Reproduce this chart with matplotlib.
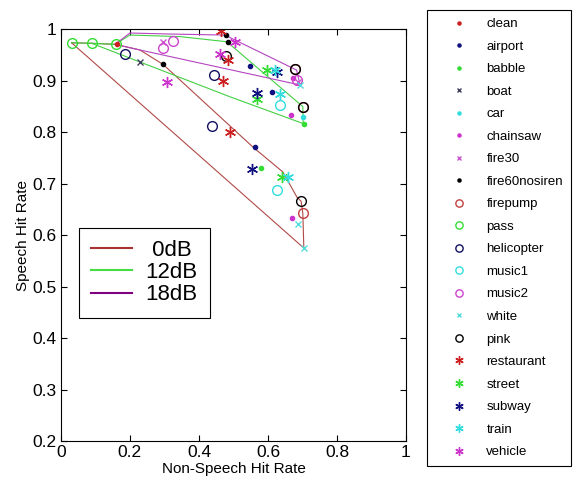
import matplotlib
matplotlib.use('Agg')
import matplotlib.pyplot as plt

plt.rcParams['font.family'] = ['Liberation Sans', 'DejaVu Sans']

# operating curves per SNR (non-speech hit rate, speech hit rate)
snr_names = ['0dB', '12dB', '18dB']
snr_labels = [' 0dB', '12dB', '18dB']
curve_upper = {
    '0dB': ([0.031, 0.089, 0.157, 0.229, 0.296, 0.557, 0.643, 0.684, 0.696, 0.701, 0.704],
            [0.974, 0.973, 0.971, 0.960, 0.932, 0.771, 0.723, 0.674, 0.666, 0.643, 0.575]),
    '12dB': ([0.031, 0.089, 0.157, 0.200, 0.345, 0.481, 0.701, 0.702],
             [0.974, 0.973, 0.971, 0.989, 0.986, 0.976, 0.850, 0.817]),
    '18dB': ([0.157, 0.200, 0.316, 0.475, 0.683, 0.693],
             [0.971, 0.993, 0.991, 0.989, 0.921, 0.892]),
}
curve_lower = {
    '0dB': ([0.031, 0.704], [0.974, 0.575]),
    '12dB': ([0.089, 0.490, 0.702], [0.973, 0.869, 0.817]),
    '18dB': ([0.157, 0.229, 0.693], [0.971, 0.960, 0.892]),
}
snr_colors = ['#b04a48', '#44d044', '#b444c0']
snr_legend_colors = ['#a83232', '#44dd44', '#800080']

# noise conditions: name, marker, colour, x, y
conditions = ['clean', 'airport', 'babble', 'boat', 'car', 'chainsaw', 'fire30',
              'fire60nosiren', 'firepump', 'pass', 'helicopter', 'music1', 'music2',
              'white', 'pink', 'restaurant', 'street', 'subway', 'train', 'vehicle']
markers = ['.', '.', '.', 'x', '.', '.', 'x', '.', 'o', 'o', 'o', 'o', 'o', 'x', 'o',
           '*', '*', '*', '*', '*']
colors = ['#cc2020', '#101080', '#33dd33', '#404060', '#33dddd', '#cc33cc', '#cc55cc',
          '#000000', '#c04040', '#33dd33', '#101060', '#33dddd', '#cc44cc', '#55dddd',
          '#000000', '#cc2020', '#33dd33', '#101080', '#33dddd', '#cc33cc']
xs = [[0.163], [0.548, 0.611, 0.562], [0.704, 0.579], [0.229], [0.702],
      [0.672, 0.666, 0.669], [0.297, 0.687], [0.478, 0.485, 0.297],
      [0.678, 0.701, 0.701], [0.031, 0.089, 0.159], [0.443, 0.437, 0.186],
      [0.635, 0.627], [0.297, 0.326, 0.683], [0.693, 0.688, 0.704],
      [0.478, 0.678, 0.701, 0.695], [0.463, 0.485, 0.470, 0.490],
      [0.596, 0.569, 0.640], [0.625, 0.569, 0.553], [0.620, 0.635, 0.659],
      [0.504, 0.461, 0.306]]
ys = [[0.971], [0.929, 0.878, 0.771], [0.817, 0.730], [0.937], [0.830],
      [0.905, 0.834, 0.634], [0.976, 0.898], [0.989, 0.976, 0.932],
      [0.924, 0.849, 0.643], [0.974, 0.973, 0.971], [0.911, 0.812, 0.953],
      [0.853, 0.688], [0.963, 0.978, 0.902], [0.892, 0.621, 0.575],
      [0.948, 0.923, 0.849, 0.667], [0.997, 0.940, 0.900, 0.801],
      [0.922, 0.864, 0.713], [0.918, 0.877, 0.728], [0.921, 0.874, 0.714],
      [0.975, 0.952, 0.898]]

fig = plt.figure(figsize=(5.8, 4.82), dpi=100)
ax = fig.add_axes([0.105, 0.085, 0.595, 0.854])

snr_lines = []
for name, lab, c in zip(snr_names, snr_labels, snr_colors):
    ln, = ax.plot(*curve_upper[name], color=c, lw=0.8, label=lab)
    ax.plot(*curve_lower[name], color=c, lw=0.8)
    snr_lines.append(ln)

cond_handles = []
for name, m, c, x, y in zip(conditions, markers, colors, xs, ys):
    if m == '*':
        mk, ms = (6, 2, 0), 8
    elif m == 'o':
        mk, ms = 'o', 7
    elif m == 'x':
        mk, ms = 'x', 4.5
    else:
        mk, ms = '.', 6
    h, = ax.plot(x, y, linestyle='none', marker=mk, ms=ms, color=c,
                 markerfacecolor='none' if m == 'o' else c, mew=1.0, label=name)
    cond_handles.append(h)

ax.set_xlim(0, 1)
ax.set_ylim(0.2, 1)
ax.set_xticks([0, 0.2, 0.4, 0.6, 0.8, 1])
ax.set_xticklabels(['0', '0.2', '0.4', '0.6', '0.8', '1'])
ax.set_yticks([0.2, 0.3, 0.4, 0.5, 0.6, 0.7, 0.8, 0.9, 1])
ax.set_yticklabels(['0.2', '0.3', '0.4', '0.5', '0.6', '0.7', '0.8', '0.9', '1'])
ax.tick_params(direction='in', length=4, width=0.8, top=True, right=True,
               labelsize=12.5, pad=3)
for s in ax.spines.values():
    s.set_linewidth(0.8)
ax.set_xlabel('Non-Speech Hit Rate', fontsize=11, labelpad=1)
ax.set_ylabel('Speech Hit Rate', fontsize=11, labelpad=2)

leg1 = ax.legend(handles=snr_lines, loc='lower left', bbox_to_anchor=(0.052, 0.30),
                 borderaxespad=0, fontsize=16, handlelength=1.85, labelspacing=0.05,
                 handletextpad=0.6, borderpad=0.55, fancybox=False, framealpha=1,
                 edgecolor='black')
leg1.get_frame().set_linewidth(0.8)
for ln, c in zip(leg1.get_lines(), snr_legend_colors):
    ln.set_color(c)
    ln.set_linewidth(1.5)

leg2 = fig.legend(handles=cond_handles, loc='upper left',
                  bbox_to_anchor=(427 / 580, 1 - 10 / 482), borderaxespad=0,
                  fontsize=9.5, handlelength=3.6, handletextpad=0.3, labelspacing=0.78,
                  borderpad=0.6, fancybox=False, framealpha=1, edgecolor='black',
                  markerscale=0.75)
leg2.get_frame().set_linewidth(0.8)

fig.savefig('out.png', dpi=100)
